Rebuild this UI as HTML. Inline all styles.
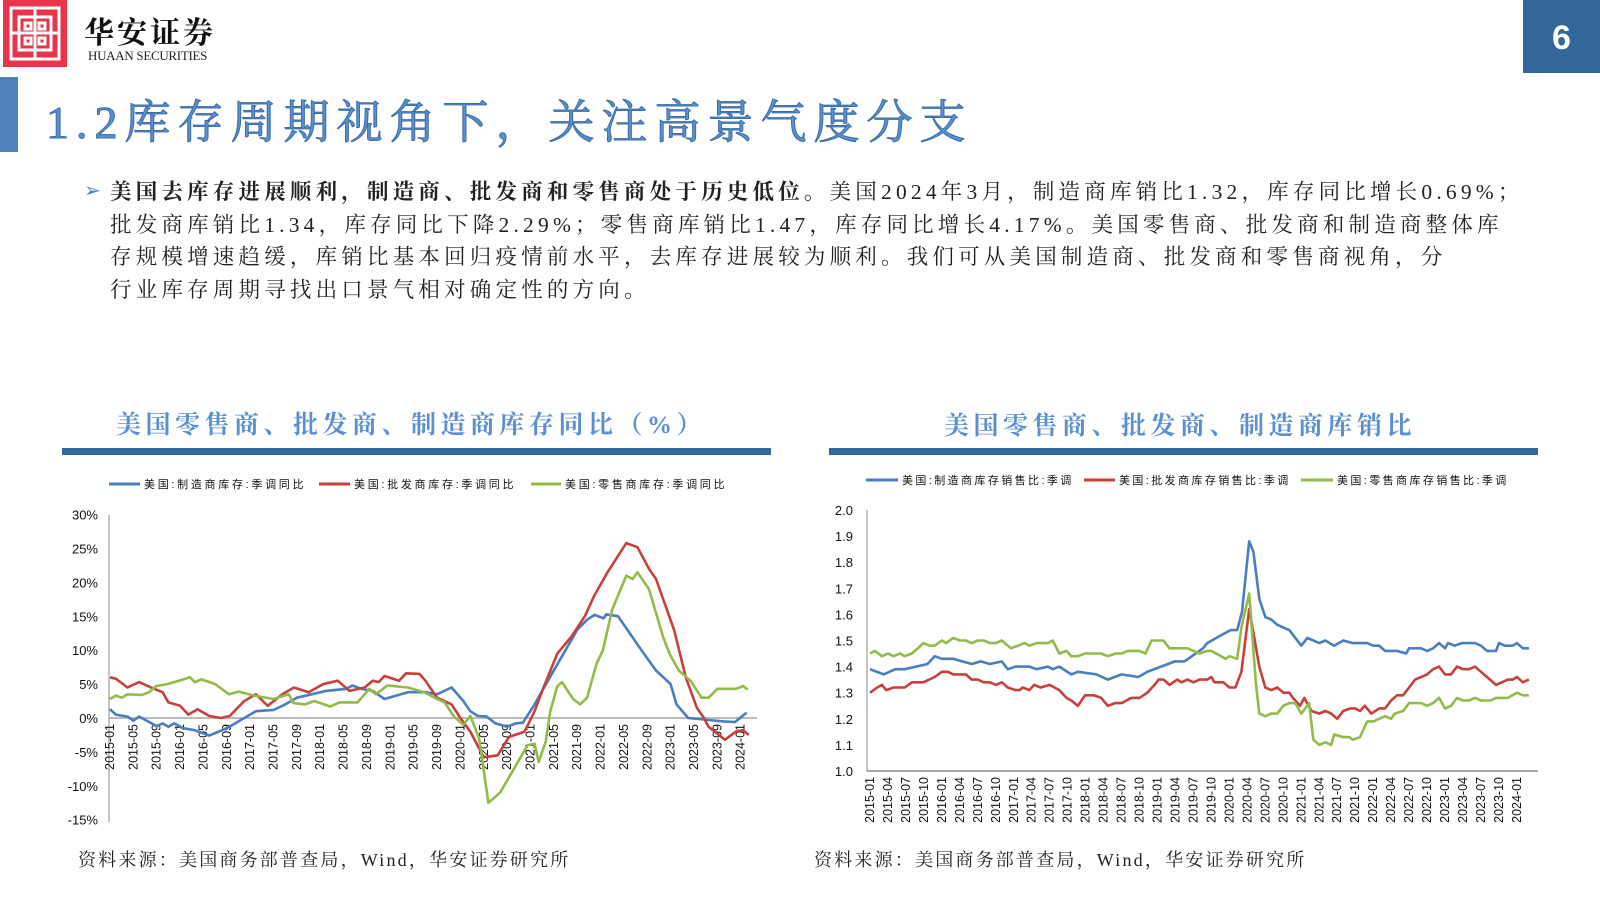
<!DOCTYPE html>
<html><head><meta charset="utf-8">
<style>
html,body{margin:0;padding:0;background:#fff;}
body{width:1600px;height:900px;position:relative;overflow:hidden;font-family:"Liberation Serif","Noto Serif CJK SC",serif;}
.abs{position:absolute;}
.title{left:46px;top:86px;font-size:46px;color:#5b8fd0;font-family:"Liberation Serif","Noto Serif CJK SC",serif;letter-spacing:7px;white-space:nowrap;-webkit-text-stroke:1px #3d6ea8;}
.para{left:110px;top:176px;font-size:21.5px;line-height:32.5px;color:#222;letter-spacing:4.2px;white-space:nowrap;}
.para b{font-weight:bold;}
.ctitle{font-size:25px;color:#5b8fd0;font-weight:bold;white-space:nowrap;letter-spacing:4.5px;font-family:"Liberation Serif","Noto Serif CJK SC",serif;}
.src{font-size:18px;color:#222;top:846px;white-space:nowrap;letter-spacing:2.2px;}
</style></head><body>
<div class="abs" style="left:3px;top:0;width:64px;height:67px;background:#e8344a;"></div>
<svg class="abs" style="left:3px;top:0" width="64" height="67">
<g fill="none" stroke="#fff" stroke-width="3">
<rect x="8" y="8" width="48" height="51"/>
<rect x="16" y="17" width="32" height="33"/>
<line x1="32" y1="8" x2="32" y2="59"/>
<line x1="8" y1="33" x2="56" y2="33"/>
<rect x="22" y="23" width="6" height="6"/><rect x="36" y="23" width="6" height="6"/>
<rect x="22" y="38" width="6" height="6"/><rect x="36" y="38" width="6" height="6"/>
</g></svg>
<div class="abs" style="left:84px;top:8px;font-size:30px;font-family:'Noto Serif CJK SC',serif;font-weight:bold;letter-spacing:3px;color:#111;">华安证券</div>
<div class="abs" style="left:88px;top:48px;font-size:13px;color:#222;letter-spacing:-0.3px;">HUAAN SECURITIES</div>
<div class="abs" style="left:1523px;top:0;width:77px;height:73px;background:#336699;color:#fff;font:bold 34px 'Liberation Sans',sans-serif;text-align:center;line-height:76px;">6</div>
<div class="abs" style="left:0;top:77px;width:18px;height:75px;background:#4f81bd;"></div>
<div class="abs title">1.2库存周期视角下，关注高景气度分支</div>
<div class="abs" style="left:84px;top:178px;font-size:20px;color:#4f81bd;">➢</div>
<div class="abs para"><b>美国去库存进展顺利，制造商、批发商和零售商处于历史低位。</b>美国2024年3月，制造商库销比1.32，库存同比增长0.69%；<br>批发商库销比1.34，库存同比下降2.29%；零售商库销比1.47，库存同比增长4.17%。美国零售商、批发商和制造商整体库<br>存规模增速趋缓，库销比基本回归疫情前水平，去库存进展较为顺利。我们可从美国制造商、批发商和零售商视角，分<br>行业库存周期寻找出口景气相对确定性的方向。</div>

<div class="abs ctitle" style="left:116px;top:405px;">美国零售商、批发商、制造商库存同比（%）</div>
<div class="abs" style="left:62px;top:448px;width:709px;height:7px;background:#336699;"></div>
<div class="abs ctitle" style="left:944px;top:406px;">美国零售商、批发商、制造商库销比</div>
<div class="abs" style="left:829px;top:448px;width:709px;height:7px;background:#336699;"></div>

<svg id="svg" class="abs" style="left:0;top:0" width="1600" height="900" font-family="Liberation Sans, Noto Sans CJK SC, sans-serif"></svg>

<div class="abs src" style="left:78px;">资料来源：美国商务部普查局，Wind，华安证券研究所</div>
<div class="abs src" style="left:814px;">资料来源：美国商务部普查局，Wind，华安证券研究所</div>

<script>
var svg=document.getElementById('svg'),out="";
function line(x1,y1,x2,y2,c,w){out+='<line x1="'+x1+'" y1="'+y1+'" x2="'+x2+'" y2="'+y2+'" stroke="'+c+'" stroke-width="'+w+'"/>';}
function text(x,y,t,s,a,extra){out+='<text x="'+x+'" y="'+y+'" font-size="'+s+'" text-anchor="'+(a||'start')+'" fill="#111" '+(extra||'')+'>'+t+'</text>';}
function poly(d,fx,fy,c){var p=[];for(var i=0;i<d.length;i+=2)p.push(fx(d[i]).toFixed(1)+','+fy(d[i+1]).toFixed(1));out+='<polyline points="'+p.join(' ')+'" fill="none" stroke="'+c+'" stroke-width="2.6" stroke-linejoin="round"/>';}
var B="#4a7ec0",R="#c8403c",G="#92bb4a";
var lx=function(m){return 110+m*5.84},ly=function(v){return 718-v*6.78};
line(109,515,109,822,"#888",1);
line(109,718,757,718,"#bbb",2);
[30,25,20,15,10,5,0,-5,-10,-15].forEach(function(v){text(98,ly(v)+5,v+'%',13,'end');});
for(var k=0;k<28;k++){var m=k*4,yr=2015+Math.floor(m/12),mo=m%12+1;var lab=yr+'-'+(mo<10?'0':'')+mo;var x=lx(m)+4;text(x,724,lab,12.5,'end','transform="rotate(-90 '+x+' 724)"');}
var ls='letter-spacing="2.7"';
line(109,484,140,484,B,3);text(144,488,'美国:制造商库存:季调同比',11,'start',ls);
line(319,484,350,484,R,3);text(354,488,'美国:批发商库存:季调同比',11,'start',ls);
line(531,484,561,484,G,3);text(565,488,'美国:零售商库存:季调同比',11,'start',ls);
poly([0,1.3,1,0.5,3,0.2,4,-0.4,5,0.2,8,-1.2,9,-0.8,10,-1.3,11,-0.8,12.5,-1.5,14.5,-1.8,17,-2.6,20,-1.5,22,-0.5,25,1,28,1.2,30,2,32,3,34.5,3.5,37,4,40.5,4.3,41.5,4.8,43,4.3,45,4,47,2.8,49,3.3,51,3.8,54,3.8,56,3.5,58.5,4.5,60.5,2.5,61.7,1,63,0.3,64.5,0.2,66,-0.8,68,-1.3,69.5,-0.8,70.7,-0.7,72.7,2,74,4,76,7,78,10,80,13,81.7,14.5,83,15.2,84.5,14.7,85,15.3,87,15,91,10,93.5,7,96,5,97,2,99,0,102.5,-0.3,105,-0.5,107,-0.6,109,0.8],lx,ly,B);
poly([0,6,1,5.8,3,4.5,5,5.3,7,4.5,9,3.8,10,2.3,12,1.8,13.4,0.5,15,1.3,17,0.3,19,0,20.5,0.3,23,2.5,25,3.5,27,1.8,29.5,3.5,31.5,4.5,34,3.8,36.5,5,39,5.5,41,4,43.6,4.5,45,5.5,46,5.3,47,6.2,49.5,5.5,50.7,6.6,53,6.5,54,5.5,56,3,58.5,2,60,0,61.7,-2,64,-5.8,66.4,-5.5,68.3,-2.8,71,-2,72.7,1,74,4,76.6,9.5,79,12,81.3,15,82.9,18,85.2,21.5,88.4,25.8,90.3,25.2,92.3,22,93.5,20.5,96.6,13,98.6,6,100.5,1.5,101.7,0,102.5,-1.3,105.3,-3.2,107.2,-2,108.4,-1.8,109.4,-2.5],lx,ly,R);
poly([0,2.8,1,3.3,2,3,3,3.5,5.5,3.4,6.7,3.8,7.9,4.7,9.8,5,11.8,5.5,13.7,6,14.5,5.3,15.7,5.7,18,5,20.4,3.5,22,3.9,24.7,3.3,28,2.8,30.6,3.5,31.4,2.2,33.4,2,35,2.5,37.7,1.7,39.3,2.3,42.4,2.3,44.4,4.3,45.5,3.5,47.5,4.8,51,4.5,53.8,3.8,56,2.8,57.3,2.3,58.9,0.2,60.5,-1,61.7,0.3,63.2,-3,64.8,-12.5,66.8,-11,69.5,-7,71.5,-4,72.7,-3.8,73.4,-6.5,74.6,-3.5,75.4,1,76.6,4.7,77.4,5.3,79.3,2.8,80.5,2,81.7,3,83.3,8,84.4,10,86,16,88.4,21,89.5,20.5,90.3,21.5,92.3,19,94.7,12,95.8,9.5,97.4,7,99.4,5.5,101.3,3,102.5,3,104,4.3,107.2,4.3,108.4,4.7,109.2,4.2],lx,ly,G);
var rx=function(m){return 870+m*5.99},ry=function(v){return 771-(v-1)*261};
line(867,510,867,771,"#888",1);
line(867,771,1538,771,"#888",1.5);
for(var v=10;v<=20;v++){text(853,ry(v/10)+5,(v/10).toFixed(1),13,'end');}
for(var k=0;k<37;k++){var m=k*3,yr=2015+Math.floor(m/12),mo=m%12+1;var lab=yr+'-'+(mo<10?'0':'')+mo;var x=rx(m)+4;text(x,777,lab,12.5,'end','transform="rotate(-90 '+x+' 777)"');}
var rs='letter-spacing="2.4"';
line(866,480,898,480,B,3);text(902,484,'美国:制造商库存销售比:季调',11,'start',rs);
line(1084,480,1115,480,R,3);text(1119,484,'美国:批发商库存销售比:季调',11,'start',rs);
line(1301,480,1333,480,G,3);text(1337,484,'美国:零售商库存销售比:季调',11,'start',rs);
poly([0,1.39,2.3,1.37,4.2,1.39,5.8,1.39,7.7,1.40,9.6,1.41,10.8,1.44,12,1.43,13.9,1.43,15.4,1.42,17,1.41,18.5,1.42,20,1.41,22,1.42,23,1.39,24.3,1.40,26.6,1.40,27.8,1.39,29.7,1.40,30.5,1.39,31.6,1.40,33.6,1.37,34.7,1.38,37.8,1.37,39.7,1.35,42,1.37,44.8,1.36,46.3,1.38,48.6,1.40,50.9,1.42,52.5,1.42,55.6,1.47,56.3,1.49,58.6,1.52,60.2,1.54,61.3,1.54,62.1,1.61,63.3,1.88,64,1.84,65,1.66,66,1.59,67,1.58,68,1.56,70,1.54,72,1.48,73,1.51,75,1.49,76,1.50,77.5,1.48,79,1.50,80.6,1.49,83,1.49,84,1.48,85,1.48,86,1.46,88,1.46,89.5,1.45,90,1.47,92,1.47,93,1.46,94,1.47,95,1.49,96,1.47,96.5,1.49,97.6,1.48,98.8,1.49,101,1.49,102,1.48,103,1.46,104.5,1.46,105,1.49,106,1.48,107.3,1.48,108,1.49,109,1.47,110,1.47],rx,ry,B);
poly([0,1.30,1.2,1.32,2,1.33,2.7,1.31,3.9,1.32,5.8,1.32,7,1.34,8.9,1.34,10.8,1.36,12,1.38,13,1.38,13.9,1.37,16,1.37,17,1.35,18,1.35,19,1.34,20,1.34,21,1.33,22,1.34,23,1.32,24.3,1.31,25,1.31,25.5,1.32,26.6,1.31,27.4,1.33,28.5,1.32,30,1.33,31.6,1.31,32.8,1.28,33.6,1.27,34.7,1.25,35.9,1.29,37.4,1.29,38.6,1.28,39.7,1.25,40.9,1.26,42,1.26,43.6,1.28,45,1.28,46.3,1.30,47.5,1.33,48.2,1.35,49,1.35,50,1.33,51.3,1.35,52,1.34,53,1.35,54,1.34,55,1.35,56.3,1.35,57,1.36,57.5,1.34,59,1.34,60,1.32,61,1.32,62,1.38,63.3,1.62,64,1.53,65,1.40,66,1.32,67,1.31,68,1.32,69,1.30,70,1.30,70.6,1.28,71.8,1.25,72.5,1.28,73.7,1.23,75,1.22,76,1.23,77,1.22,78,1.20,79,1.23,80.2,1.24,81,1.24,81.8,1.23,82.6,1.25,83.7,1.22,85,1.24,86,1.24,87,1.27,88,1.29,89,1.29,90,1.32,91,1.35,92,1.36,93,1.37,94,1.39,95,1.40,96,1.37,97,1.37,98,1.40,99,1.39,100,1.39,101,1.40,102,1.38,103,1.36,104.5,1.33,105.5,1.34,106.5,1.35,107.3,1.35,108,1.36,109,1.34,110,1.35],rx,ry,R);
poly([0,1.45,0.8,1.46,2,1.44,3,1.45,3.9,1.44,5,1.45,5.8,1.44,7,1.45,8,1.47,8.9,1.49,10,1.48,10.8,1.48,12,1.50,12.7,1.49,13.9,1.51,15,1.50,16,1.50,17,1.49,18,1.50,19,1.50,20,1.49,21,1.49,22,1.50,23,1.48,23.5,1.47,24.7,1.48,25.8,1.49,26.6,1.48,27.8,1.49,29.7,1.49,30.5,1.50,31.6,1.45,32.8,1.46,33.6,1.44,34.7,1.44,35.9,1.45,38.6,1.45,39.7,1.44,41,1.45,42,1.45,43,1.46,45,1.46,46,1.45,47,1.50,49,1.50,50,1.47,53,1.47,54,1.46,55,1.45,56.3,1.46,57,1.46,58.6,1.44,59.4,1.43,60,1.44,61.3,1.43,62,1.55,63.3,1.68,64.4,1.34,65,1.22,66,1.21,67,1.22,68,1.22,69,1.25,70,1.26,71,1.26,72,1.22,73.3,1.26,74,1.12,75,1.10,76,1.11,77,1.10,77.5,1.14,79,1.13,80,1.13,80.6,1.12,81.8,1.13,83,1.19,84,1.19,85,1.20,86,1.21,87,1.20,87.6,1.22,89,1.23,90,1.26,92,1.26,93,1.25,94,1.26,95,1.28,96,1.24,97,1.25,98,1.28,99,1.27,100,1.27,101,1.28,102,1.27,103.6,1.27,104.5,1.28,106.5,1.28,108,1.30,109,1.29,110,1.29],rx,ry,G);
svg.innerHTML=out;
</script>
</body></html>
